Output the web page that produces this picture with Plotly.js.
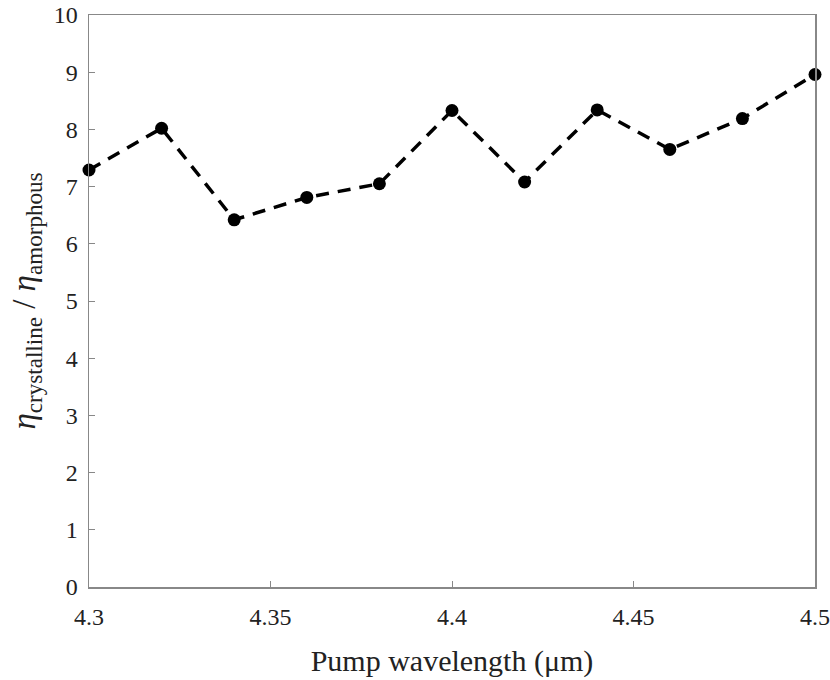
<!DOCTYPE html>
<html>
<head>
<meta charset="utf-8">
<script src="https://cdn.plot.ly/plotly-3.0.1.min.js"></script>
<style>html,body{margin:0;padding:0;background:#fff;}#chart{width:830px;height:680px;}</style>
</head>
<body>
<div id="chart"></div>
<script>
const wavelength = [4.30, 4.32, 4.34, 4.36, 4.38, 4.40, 4.42, 4.44, 4.46, 4.48, 4.50];
const ratio = [7.29, 8.02, 6.42, 6.81, 7.05, 8.33, 7.08, 8.34, 7.65, 8.19, 8.96];
const xTicks = [4.3, 4.35, 4.4, 4.45, 4.5];
const xTickLabels = ['4.3', '4.35', '4.4', '4.45', '4.5'];
const yTicks = [0,1,2,3,4,5,6,7,8,9,10];

const trace = {
  x: wavelength, y: ratio, type: 'scatter', mode: 'lines+markers',
  line: {color: '#000', width: 3.5, dash: '13px,9px'},
  marker: {symbol: 'circle', size: 13, color: '#000'},
  cliponaxis: false
};
const fam = '"Liberation Serif", "Times New Roman", serif';
const layout = {
  width: 830, height: 680,
  margin: {l: 89, r: 15, t: 15, b: 93},
  paper_bgcolor: '#fff', plot_bgcolor: '#fff',
  font: {family: fam, color: '#222', size: 24},
  showlegend: false,
  xaxis: {
    range: [4.3, 4.5], tickvals: xTicks, ticktext: xTickLabels,
    ticks: 'inside', ticklen: 6, tickcolor: '#888', tickwidth: 1,
    showline: true, linecolor: '#888', linewidth: 1.5, mirror: true,
    showgrid: false, zeroline: false, ticklabelstandoff: 8,
    tickfont: {size: 24, family: fam, color: '#222'},
    title: {text: 'Pump wavelength (μm)', font: {size: 30, family: fam, color: '#222'}, standoff: 20}
  },
  yaxis: {
    range: [0, 10], tickvals: yTicks,
    ticks: 'inside', ticklen: 6, tickcolor: '#888', tickwidth: 1,
    showline: true, linecolor: '#888', linewidth: 1.5, mirror: true,
    showgrid: false, zeroline: false, ticklabelstandoff: 5,
    tickfont: {size: 24, family: fam, color: '#222'},
    title: {text: '<i>η</i><sub>crystalline</sub> / <i>η</i><sub>amorphous</sub>', font: {size: 33, family: fam, color: '#222'}, standoff: 8}
  }
};
Plotly.newPlot('chart', [trace], layout, {displayModeBar: false, staticPlot: true});
</script>
</body>
</html>
